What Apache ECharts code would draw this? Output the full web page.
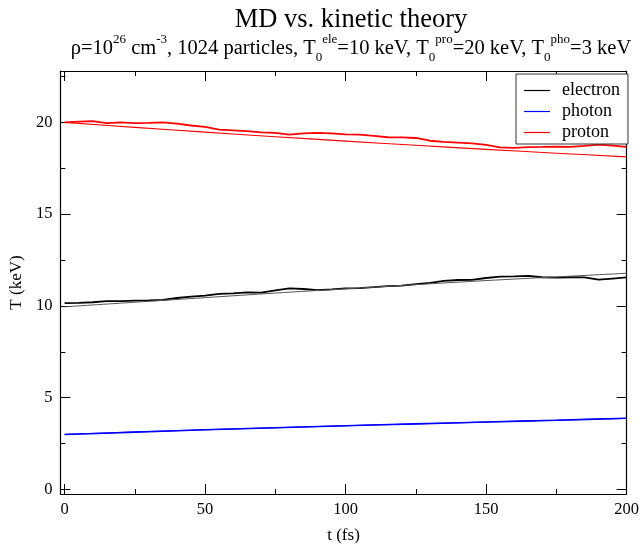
<!DOCTYPE html>
<html><head><meta charset="utf-8">
<script src="https://cdn.jsdelivr.net/npm/echarts@6/dist/echarts.min.js"></script>
<style>html,body{margin:0;padding:0;background:#fff}#c{width:642px;height:549px}</style>
</head><body><div id="c"></div>
<script>
// ---- data ----
const tMD = [0,5,10,15,20,25,30,35,40,45,50,55,60,65,70,75,80,85,90,95,100,105,110,115,120,125,130,135,140,145,150,155,160,165,170,175,180,185,190,195,200];
const protonMD = [20.0,20.04,20.07,19.96,20.0,19.96,19.97,20.0,19.93,19.83,19.75,19.61,19.56,19.52,19.46,19.43,19.33,19.4,19.43,19.4,19.35,19.33,19.27,19.19,19.18,19.15,19.0,18.94,18.9,18.86,18.78,18.64,18.61,18.65,18.66,18.68,18.66,18.72,18.79,18.73,18.66];
const electronMD = [10.15,10.17,10.2,10.26,10.26,10.29,10.3,10.33,10.43,10.5,10.56,10.65,10.68,10.74,10.72,10.85,10.96,10.92,10.86,10.9,10.95,10.97,11.02,11.08,11.11,11.19,11.25,11.36,11.41,11.42,11.52,11.6,11.61,11.64,11.56,11.54,11.56,11.55,11.43,11.49,11.55];
const tPho = [0,25,50,75,100,125,150,175,200];
const photonMD = [2.99,3.12,3.25,3.36,3.47,3.57,3.67,3.77,3.88];
const tTheory = [0,25,50,75,100,125,150,175,200];
const protonTh = [20.0,19.73,19.47,19.22,18.98,18.75,18.53,18.32,18.12];
const electronTh = [9.95,10.2,10.45,10.7,10.93,11.16,11.38,11.58,11.78];
const photonTh = [3.0,3.13,3.25,3.36,3.47,3.57,3.67,3.77,3.87];
const xMajor = [0,50,100,150,200];
const xMinor = [25,75,125,175];
const yMajor = [0,5,10,15,20];
const yMinor = [2.5,7.5,12.5,17.5,22.5];
const legendNames = ['electron','photon','proton'];
const titleText = 'MD vs. kinetic theory';
const xName = 't (fs)';
const yName = 'T (keV)';

const zip = (t, v) => t.map((x, i) => [x, v[i]]);
const F = 'Liberation Serif';
const X0 = -1.5, X1 = 200, Y0 = -0.25, Y1 = 22.8;

function xAx(pos, vals, len, labels, line) {
  return {type:'value', position:pos, min:X0, max:X1, gridIndex:0,
    axisLine:{show:line, onZero:false, lineStyle:{color:'#000', width:1.2}},
    axisTick:{show:true, inside:true, length:len, customValues:vals, lineStyle:{color:'#000', width:1}},
    axisLabel:{show:labels, customValues:vals, color:'#000', fontFamily:F, fontSize:16.5, margin:7},
    splitLine:{show:false}};
}
function yAx(pos, vals, len, labels, line) {
  return {type:'value', position:pos, min:Y0, max:Y1, gridIndex:0,
    axisLine:{show:line, onZero:false, lineStyle:{color:'#000', width:1.2}},
    axisTick:{show:true, inside:true, length:len, customValues:vals, lineStyle:{color:'#000', width:1}},
    axisLabel:{show:labels, customValues:vals, color:'#000', fontFamily:F, fontSize:16.5, margin:8},
    splitLine:{show:false}};
}
const xs = [xAx('bottom', xMajor, 10, true, true), xAx('bottom', xMinor, 5, false, false),
            xAx('top', xMajor, 10, false, true), xAx('top', xMinor, 5, false, false)];
const ys = [yAx('left', yMajor, 10, true, true), yAx('left', yMinor, 5, false, false),
            yAx('right', yMajor, 10, false, true), yAx('right', yMinor, 5, false, false)];
xs[0].name = xName; xs[0].nameLocation = 'middle'; xs[0].nameGap = 33;
xs[0].nameTextStyle = {color:'#000', fontFamily:F, fontSize:17};
ys[0].name = yName; ys[0].nameLocation = 'middle'; ys[0].nameGap = 21;
ys[0].nameTextStyle = {color:'#000', fontFamily:F, fontSize:17};

const chart = echarts.init(document.getElementById('c'), null, {renderer:'canvas'});
chart.setOption({
  backgroundColor:'#fff',
  animation:false,
  title:[{text:titleText, left:346, textAlign:'center', top:2,
          textStyle:{fontFamily:F, fontSize:26.5, fontWeight:'normal', color:'#000'}},
         {text:'ρ=10{sp|26} cm{sp|-3}, 1024 particles, T{sb|0}{sp|ele}=10 keV, T{sb|0}{sp|pro}=20 keV, T{sb|0}{sp|pho}=3 keV',
          left:346, textAlign:'center', top:28,
          textStyle:{fontFamily:F, fontSize:20.5, fontWeight:'normal', color:'#000', lineHeight:31,
            rich:{sp:{fontFamily:F, fontSize:13, lineHeight:13, verticalAlign:'top', color:'#000'},
                  sb:{fontFamily:F, fontSize:13, lineHeight:13, verticalAlign:'bottom', color:'#000'}}}}],
  grid:{left:60, right:11, top:71, bottom:46, containLabel:false},
  xAxis: xs, yAxis: ys,
  legend:{data:legendNames, orient:'vertical', left:516, top:74, padding:[7,8,2,8], itemGap:2,
    backgroundColor:'#fff', borderColor:'#333', borderWidth:1, borderRadius:0,
    itemWidth:26, itemHeight:10, icon:'path://M0,4.4 L26,4.4 L26,5.6 L0,5.6 Z',
    textStyle:{fontFamily:F, fontSize:18, color:'#000', padding:[0,0,0,7], lineHeight:19}},
  series:[
    {name:'electron', type:'line', data:zip(tMD, electronMD), showSymbol:false, lineStyle:{color:'#000', width:1.8}, itemStyle:{color:'#000'}},
    {name:'photon', type:'line', data:zip(tPho, photonMD), showSymbol:false, smooth:0.3, lineStyle:{color:'#0000ff', width:1.6}, itemStyle:{color:'#0000ff'}},
    {name:'proton', type:'line', data:zip(tMD, protonMD), showSymbol:false, lineStyle:{color:'#ff0000', width:1.8}, itemStyle:{color:'#ff0000'}},
    {name:'electron theory', type:'line', data:zip(tTheory, electronTh), showSymbol:false, smooth:0.3, lineStyle:{color:'#555', width:1}},
    {name:'photon theory', type:'line', data:zip(tTheory, photonTh), showSymbol:false, smooth:0.3, lineStyle:{color:'#0000ff', width:1}},
    {name:'proton theory', type:'line', data:zip(tTheory, protonTh), showSymbol:false, smooth:0.3, lineStyle:{color:'#ff0000', width:1.1}}
  ]
});
</script></body></html>
